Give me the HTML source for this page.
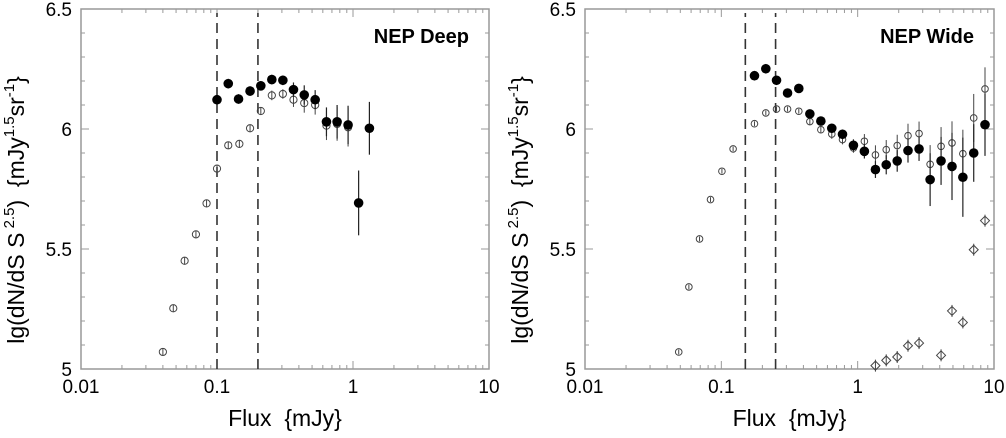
<!DOCTYPE html>
<html><head><meta charset="utf-8"><style>
body{margin:0;background:#fff}
svg text{font-family:"Liberation Sans",sans-serif;fill:#000;white-space:pre}
</style></head><body>
<svg id="c" width="1006" height="433" viewBox="0 0 1006 433" xmlns="http://www.w3.org/2000/svg"></svg>
<script>
const xTicks=[0.01,0.1,1,10];
const xTickLabels=["0.01","0.1","1","10"];
const yTicks=[5,5.5,6,6.5];
const yTickLabels=["5","5.5","6","6.5"];
// NEP Deep
const deepFilledX=[0.1,0.121,0.144,0.175,0.21,0.253,0.305,0.365,0.438,0.527,0.638,0.764,0.92,1.10,1.32];
const deepFilledY=[6.122,6.189,6.125,6.158,6.180,6.206,6.203,6.164,6.142,6.122,6.03,6.03,6.017,5.692,6.003];
const deepFilledErr=[0.02,0.02,0.02,0.02,0.02,0.02,0.02,0.03,0.04,0.04,0.06,0.07,0.08,0.135,0.11];
const deepOpenX=[0.04,0.0477,0.0578,0.070,0.0838,0.1,0.121,0.146,0.175,0.21,0.253,0.305,0.365,0.438,0.527,0.638,0.764,0.92];
const deepOpenY=[5.071,5.253,5.451,5.561,5.69,5.835,5.932,5.938,6.003,6.075,6.140,6.146,6.122,6.108,6.10,6.014,6.021,6.007];
const deepOpenErr=[0.015,0.015,0.015,0.015,0.015,0.015,0.015,0.015,0.015,0.015,0.02,0.02,0.03,0.04,0.04,0.06,0.07,0.08];
const deepCuts=[0.1,0.2];
// NEP Wide
const wideFilledX=[0.175,0.212,0.254,0.306,0.370,0.446,0.537,0.646,0.774,0.931,1.12,1.35,1.62,1.95,2.34,2.82,3.40,4.09,4.92,5.91,7.10,8.59];
const wideFilledY=[6.222,6.251,6.203,6.150,6.169,6.063,6.033,6.003,5.978,5.932,5.907,5.831,5.851,5.867,5.910,5.917,5.789,5.867,5.844,5.799,5.900,6.018];
const wideFilledErr=[0.02,0.02,0.015,0.01,0.01,0.01,0.015,0.015,0.02,0.025,0.03,0.035,0.04,0.045,0.05,0.05,0.11,0.1,0.14,0.165,0.12,0.13];
const wideOpenX=[0.0487,0.0578,0.0692,0.0833,0.101,0.122,0.175,0.212,0.254,0.306,0.370,0.446,0.537,0.646,0.774,0.931,1.12,1.35,1.62,1.95,2.34,2.82,3.40,4.09,4.92,5.91,7.10,8.59];
const wideOpenY=[5.071,5.342,5.542,5.706,5.824,5.917,6.022,6.067,6.083,6.083,6.074,6.031,5.997,5.979,5.956,5.921,5.949,5.892,5.914,5.931,5.972,5.981,5.853,5.928,5.942,5.897,6.046,6.167];
const wideOpenErr=[0.01,0.01,0.01,0.01,0.01,0.01,0.01,0.01,0.01,0.01,0.01,0.015,0.015,0.02,0.02,0.02,0.03,0.04,0.04,0.045,0.05,0.05,0.08,0.08,0.09,0.1,0.1,0.09];
const wideDiamX=[1.35,1.62,1.95,2.34,2.82,4.09,4.92,5.91,7.10,8.59];
const wideDiamY=[5.014,5.036,5.05,5.097,5.108,5.057,5.242,5.194,5.497,5.618];
const wideCuts=[0.15,0.25];

const NS="http://www.w3.org/2000/svg";
const svg=document.getElementById('c');
function mk(tag,attrs,parent){const e=document.createElementNS(NS,tag);for(const k in attrs)e.setAttribute(k,attrs[k]);(parent||svg).appendChild(e);return e;}

function panel(x0,x1,name,label,fX,fY,fE,oX,oY,oE,oR,cuts,dX,dY){
  const y0=9,y1=369;
  const g=mk('g',{});
  
  
  const sx=v=>x0+(Math.log10(v)+2)/3*(x1-x0);
  const sy=v=>y1-(v-5)/1.5*(y1-y0);
  const frame=mk('rect',{x:x0,y:y0,width:x1-x0,height:y1-y0,fill:'none',stroke:'#999','stroke-width':1.5},g);
  
  
  for(let d=-2;d<1;d++){for(let m=1;m<10;m++){const v=m*Math.pow(10,d);const x=sx(v);const L=m==1?8:4;
    mk('line',{x1:x,y1:y1,x2:x,y2:y1-L,stroke:'#999','stroke-width':1},g);
    mk('line',{x1:x,y1:y0,x2:x,y2:y0+L,stroke:'#999','stroke-width':1},g);}}
  xTicks.forEach((v,i)=>{const t=mk('text',{x:sx(v),y:393,'text-anchor':'middle','font-size':19},g);t.textContent=xTickLabels[i];
    });
  for(let k=0;k<=15;k++){const v=5+k*0.1;const y=sy(v);const L=(k%5==0)?8:4;
    mk('line',{x1:x0,y1:y,x2:x0+L,y2:y,stroke:'#999','stroke-width':1},g);
    mk('line',{x1:x1,y1:y,x2:x1-L,y2:y,stroke:'#999','stroke-width':1},g);}
  yTicks.forEach((v,i)=>{const t=mk('text',{x:x0-9,y:sy(v)+7,'text-anchor':'end','font-size':19},g);t.textContent=yTickLabels[i];
    });
  cuts.forEach(v=>{const l=mk('line',{x1:sx(v),y1:y1,x2:sx(v),y2:y0+4,stroke:'#333','stroke-width':1.6,'stroke-dasharray':'10,6'},g);
    });
  oX.forEach((v,i)=>{const x=sx(v);
    mk('line',{x1:x,y1:sy(oY[i]-oE[i]),x2:x,y2:sy(oY[i]+oE[i]),stroke:'#444','stroke-width':1},g);
    const c=mk('circle',{cx:x,cy:sy(oY[i]),r:oR,fill:'none',stroke:'#444','stroke-width':1},g);
    });
  if(dX){dX.forEach((v,i)=>{const x=sx(v),y=sy(dY[i]);
    const p=mk('polygon',{points:`${x},${y-4.5} ${x+4.5},${y} ${x},${y+4.5} ${x-4.5},${y}`,fill:'none',stroke:'#444','stroke-width':1},g);
    mk('line',{x1:x,y1:y-6,x2:x,y2:y+6,stroke:'#444','stroke-width':1},g);
    });}
  fX.forEach((v,i)=>{const x=sx(v);
    mk('line',{x1:x,y1:sy(fY[i]-fE[i]),x2:x,y2:sy(fY[i]+fE[i]),stroke:'#222','stroke-width':1.2},g);
    const c=mk('circle',{cx:x,cy:sy(fY[i]),r:4.8,fill:'#000'},g);
    });
  const t=mk('text',{x:x1-20,y:43,'text-anchor':'end','font-size':20,'font-weight':'bold'},g);t.textContent=label;
  
  const xt=mk('text',{x:(x0+x1)/2,y:426,'text-anchor':'middle','font-size':23},g);xt.textContent='Flux  {mJy}';
  
  const cx=x0-57,cy=210;
  const yt=mk('text',{x:cx,y:cy,'text-anchor':'middle','font-size':23,transform:`rotate(-90 ${cx} ${cy})`},g);
  yt.innerHTML='lg(dN/dS S<tspan font-size="15" dy="-10"> 2.5</tspan><tspan dy="10">)  {mJy</tspan><tspan font-size="15" dy="-10">1.5</tspan><tspan dy="10">sr</tspan><tspan font-size="15" dy="-10">-1</tspan><tspan dy="10">}</tspan>';
  
}
panel(81,489,'nep-deep','NEP Deep',deepFilledX,deepFilledY,deepFilledErr,deepOpenX,deepOpenY,deepOpenErr,3.6,deepCuts,null,null);
panel(585,994,'nep-wide','NEP Wide',wideFilledX,wideFilledY,wideFilledErr,wideOpenX,wideOpenY,wideOpenErr,3.3,wideCuts,wideDiamX,wideDiamY);
</script>
</body></html>
